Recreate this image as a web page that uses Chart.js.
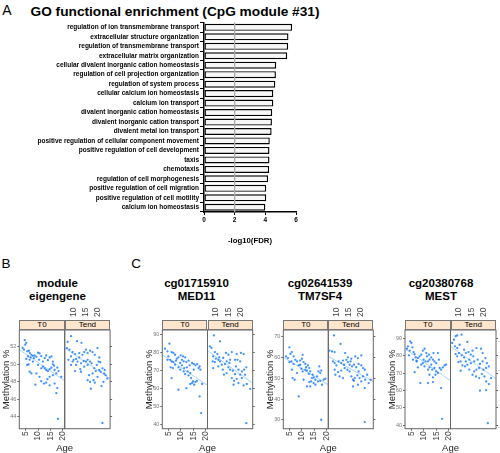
<!DOCTYPE html>
<html><head><meta charset="utf-8">
<script src="https://cdn.jsdelivr.net/npm/chart.js@4.4.1/dist/chart.umd.min.js"></script>
<style>
body{margin:0;background:#fff;}
#root{position:relative;width:500px;height:453px;overflow:hidden;font-family:"Liberation Sans",Arial,Helvetica,sans-serif;background:#fff;}
.t{position:absolute;transform:translate(-50%,-50%);white-space:nowrap;color:#000;}
canvas{position:absolute;}
.strip{position:absolute;background:#FFE5CC;border:1px solid #777;box-sizing:border-box;font-size:8px;display:flex;align-items:center;justify-content:center;color:#000;}
</style></head>
<body><div id="root">
<div class="t" style="left:7px;top:10px;font-size:14px">A</div>
<div class="t" style="left:175px;top:11px;font-size:13.7px;font-weight:bold">GO functional enrichment (CpG module #31)</div>
<div class="t" style="left:6px;top:263px;font-size:13.5px">B</div>
<div class="t" style="left:136px;top:263px;font-size:13.5px">C</div>
<div class="t" style="left:57.5px;top:290px;font-size:11.5px;font-weight:bold;line-height:13.4px;text-align:center">module<br>eigengene</div>
<div class="t" style="left:196.5px;top:290px;font-size:11.5px;font-weight:bold;line-height:13.4px;text-align:center">cg01715910<br>MED11</div>
<div class="t" style="left:320px;top:290px;font-size:11.5px;font-weight:bold;line-height:13.4px;text-align:center">cg02641539<br>TM7SF4</div>
<div class="t" style="left:441px;top:290px;font-size:11.5px;font-weight:bold;line-height:13.4px;text-align:center">cg20380768<br>MEST</div>
</div>
<script>
// ---------- DATA ----------
const goTerms = ["regulation of ion transmembrane transport","extracellular structure organization","regulation of transmembrane transport","extracellular matrix organization","cellular divalent inorganic cation homeostasis","regulation of cell projection organization","regulation of system process","cellular calcium ion homeostasis","calcium ion transport","divalent inorganic cation homeostasis","divalent inorganic cation transport","divalent metal ion transport","positive regulation of cellular component movement","positive regulation of cell development","taxis","chemotaxis","regulation of cell morphogenesis","positive regulation of cell migration","positive regulation of cell motility","calcium ion homeostasis"];
const goLog10FDR = [5.75,5.51,5.49,5.43,4.71,4.69,4.65,4.52,4.52,4.45,4.43,4.41,4.29,4.27,4.27,4.25,4.18,4.06,4.06,4.0];
const goTicks = [0,2,4,6];
const goThreshold = 2;

const ageTicks = [5,10,15,20];
const bYTicks = [44,46,48,50,52];
const c1YTicks = [40,50,60,70,80,90];
const c2YTicks = [30,40,50,60,70];
const c3YTicks = [40,50,60,70,80,90];

// [age, methylation %]
const bT0 = [[4.6,52.74],[5.2,52.43],[3.75,51.85],[4.8,52.23],[4.3,51.65],[5.6,51.46],[6.3,51.53],[6.7,51.26],[7.3,51.07],[5.9,50.88],[5.2,50.6],[6.6,50.49],[7.0,50.76],[7.9,50.95],[8.3,50.68],[8.6,50.99],[9.3,50.84],[10.0,51.3],[10.6,51.22],[10.4,50.49],[11.3,50.91],[12.0,50.29],[12.7,50.68],[13.3,50.99],[14.0,50.45],[14.7,50.76],[15.4,50.88],[16.0,50.29],[16.5,49.83],[12.0,49.71],[12.7,49.52],[13.3,49.33],[14.0,49.21],[14.7,49.44],[15.4,49.6],[16.7,49.33],[17.8,49.6],[18.3,49.21],[19.4,48.55],[17.4,48.94],[16.0,48.74],[14.7,48.55],[13.8,48.28],[13.3,47.89],[12.4,47.78],[11.3,48.05],[10.6,48.55],[9.3,48.94],[7.3,48.94],[6.6,49.13],[8.9,47.66],[14.7,47.58],[16.7,47.78],[17.8,47.27],[17.4,46.69],[18.1,43.75],[10.0,49.91],[11.3,49.52],[7.9,50.29],[16.0,49.98],[6.2,49.98],[5.6,49.91]];
const bTend = [[4.95,53.2],[3.6,52.54],[7.4,52.62],[9.2,52.43],[11.0,51.65],[12.7,51.53],[15.7,51.84],[3.3,51.84],[4.3,51.65],[5.6,51.38],[6.6,51.15],[4.95,50.88],[6.0,50.49],[7.0,50.6],[8.3,50.76],[9.6,51.07],[10.3,51.38],[11.7,51.26],[13.7,51.38],[14.6,51.07],[16.4,50.76],[11.7,50.49],[12.7,50.29],[11.0,50.29],[10.1,50.37],[9.0,50.1],[7.6,50.29],[5.6,50.29],[4.95,49.91],[6.6,49.21],[8.7,49.44],[10.3,49.71],[11.7,49.91],[13.3,50.1],[14.4,49.52],[15.4,49.91],[16.8,50.22],[17.7,49.52],[18.4,48.94],[16.4,49.33],[15.0,49.21],[13.7,48.94],[12.3,48.74],[11.7,48.16],[12.7,47.97],[14.1,48.16],[15.7,48.55],[17.0,49.13],[19.0,48.74],[19.7,48.36],[13.0,47.19],[14.6,47.89],[17.3,47.5],[18.1,47.97],[18.6,49.33],[3.9,50.49],[8.3,51.26],[17.7,43.28],[9.0,49.13],[16.1,50.29],[7.0,49.91]];
const c1T0 = [[5.3,84.8],[3.5,82.0],[4.5,80.5],[6.2,80.1],[6.9,79.6],[7.6,78.6],[4.9,77.7],[5.6,75.8],[6.2,74.9],[6.9,74.5],[8.0,75.3],[9.0,77.2],[9.9,78.3],[10.8,77.7],[11.7,77.2],[10.4,75.8],[11.1,74.9],[12.2,74.5],[13.1,75.3],[9.7,74.0],[10.4,72.7],[9.0,71.6],[6.7,71.2],[5.8,71.6],[11.3,71.2],[12.4,71.6],[13.5,72.7],[14.5,74.0],[15.2,73.4],[15.9,72.7],[16.6,73.4],[17.2,71.2],[17.9,70.3],[17.6,72.1],[15.2,70.3],[13.8,68.4],[12.7,69.3],[11.1,69.3],[11.7,67.8],[13.1,67.1],[14.1,65.6],[14.9,63.7],[15.9,63.4],[14.5,62.8],[13.8,62.3],[15.4,61.9],[16.5,64.1],[18.6,62.3],[6.2,65.6],[9.0,59.1],[12.2,60.0],[17.6,55.4],[18.2,46.1],[7.6,73.1],[9.7,70.3],[8.3,76.4],[4.5,75.8]];
const c1Tend = [[5.0,89.4],[7.5,86.1],[3.4,83.3],[4.0,82.4],[5.4,80.1],[6.4,79.0],[4.7,77.7],[5.8,76.4],[6.8,75.8],[4.5,74.9],[5.4,74.5],[7.5,74.9],[8.8,76.8],[9.9,79.6],[10.9,78.6],[12.3,80.1],[14.3,79.0],[16.0,79.6],[17.1,79.0],[13.6,75.8],[11.6,75.8],[10.2,74.9],[9.5,73.4],[8.2,73.1],[6.8,72.1],[10.9,71.6],[11.6,70.3],[12.7,69.7],[14.0,72.1],[15.0,70.3],[16.4,69.3],[17.3,70.3],[15.7,67.5],[13.6,67.8],[12.3,65.6],[13.2,64.1],[14.3,65.2],[15.0,62.8],[16.4,65.6],[17.7,67.5],[18.4,62.3],[19.8,59.6],[17.1,61.5],[13.0,61.9],[10.2,68.4],[4.7,71.2],[8.6,70.3],[18.2,71.6],[15.7,74.9],[18.2,40.5],[7.2,77.2],[11.3,74.0],[14.6,75.8],[9.1,67.5]];
const c2T0 = [[4.9,64.9],[3.5,60.5],[4.3,59.7],[5.3,61.7],[5.9,62.6],[6.6,60.5],[7.3,58.9],[5.7,58.1],[4.9,57.8],[6.6,56.9],[5.9,54.1],[6.2,50.1],[7.0,49.3],[8.0,52.5],[8.7,56.2],[9.3,58.5],[10.0,59.4],[10.3,61.3],[10.7,57.8],[11.4,56.9],[11.7,55.3],[12.5,56.2],[13.0,54.9],[9.8,54.6],[10.3,53.3],[12.1,53.7],[13.4,53.3],[12.8,52.1],[11.4,54.1],[14.1,50.1],[14.8,50.4],[15.5,49.3],[13.8,48.5],[13.0,48.2],[14.8,47.7],[13.4,46.1],[12.1,46.1],[16.2,50.9],[16.8,53.3],[17.5,52.5],[17.1,55.7],[17.9,53.7],[18.9,49.3],[19.6,49.8],[18.2,46.9],[17.5,48.8],[15.5,46.9],[14.4,51.7],[8.7,41.3],[17.9,30.1],[8.0,58.1],[9.3,56.5],[16.6,48.5],[10.7,49.3]];
const c2Tend = [[4.7,70.6],[2.9,63.3],[3.9,62.9],[5.0,62.6],[7.4,66.5],[9.3,62.1],[10.4,60.1],[11.8,59.4],[13.4,60.5],[14.5,59.7],[15.9,61.0],[4.3,58.1],[5.0,57.3],[5.7,56.2],[6.6,58.1],[7.7,57.3],[8.4,58.5],[9.8,58.9],[10.4,57.8],[11.1,56.5],[12.1,55.7],[12.9,56.5],[13.8,55.3],[14.8,56.9],[15.9,56.2],[16.6,54.9],[17.3,54.1],[10.2,54.1],[9.1,54.9],[7.7,53.7],[6.4,53.0],[5.0,54.1],[5.3,51.7],[7.0,50.9],[8.4,50.1],[11.1,53.3],[11.8,50.9],[12.5,49.3],[13.2,50.1],[14.3,51.4],[15.2,50.1],[15.9,48.5],[16.6,50.9],[17.5,49.3],[18.3,51.7],[18.9,47.7],[17.3,45.3],[14.5,46.9],[12.9,48.8],[12.5,46.1],[17.3,29.0],[8.8,56.5],[11.5,58.1],[14.8,53.3],[19.7,49.3]];
const c3T0 = [[4.5,88.3],[5.0,87.3],[3.6,85.4],[3.2,84.0],[4.3,82.9],[5.4,84.8],[5.9,82.1],[6.3,80.9],[6.7,79.0],[5.6,77.7],[7.0,77.1],[7.6,78.6],[8.3,79.6],[9.0,80.6],[9.6,82.9],[10.3,84.0],[11.0,81.5],[11.3,79.6],[12.1,80.6],[9.9,77.7],[10.7,76.7],[11.7,76.7],[12.3,77.7],[13.0,79.0],[13.7,77.7],[14.3,76.7],[15.0,75.7],[15.7,81.5],[16.1,77.7],[13.9,81.5],[13.0,74.8],[12.3,73.2],[11.7,71.9],[13.4,71.9],[14.3,72.9],[15.0,70.9],[16.4,72.9],[17.0,71.9],[17.7,73.2],[18.4,74.4],[19.0,74.8],[14.7,69.0],[13.7,67.5],[12.3,69.0],[9.0,74.8],[7.6,73.2],[6.3,70.5],[8.6,64.2],[11.7,64.2],[13.7,64.8],[17.0,61.3],[17.4,43.6],[10.3,73.8],[9.6,75.7],[7.2,76.7],[15.7,70.0],[4.0,80.2]];
const c3Tend = [[4.5,91.2],[5.1,91.7],[6.9,92.1],[3.1,87.3],[3.8,89.2],[4.2,85.4],[5.1,84.4],[6.1,86.3],[9.2,87.9],[11.3,82.9],[12.9,84.4],[14.7,84.0],[15.4,81.5],[4.5,80.9],[5.1,79.6],[5.8,81.5],[6.9,80.2],[7.9,79.0],[8.6,81.5],[9.7,82.1],[10.6,80.6],[11.6,79.6],[10.0,77.7],[8.6,76.7],[6.5,76.7],[5.6,76.3],[7.2,74.4],[8.3,73.8],[9.2,74.8],[10.6,75.7],[12.0,76.7],[13.4,77.7],[14.3,75.2],[15.4,76.7],[16.5,78.6],[17.1,75.7],[17.9,73.8],[16.8,72.9],[15.7,71.9],[14.0,72.9],[12.9,71.9],[12.0,70.9],[11.3,69.0],[12.7,68.0],[14.0,67.1],[15.1,69.4],[16.8,65.1],[17.9,63.6],[18.8,67.1],[14.3,59.8],[16.8,60.1],[17.5,41.1],[6.5,71.3],[16.1,68.0],[10.0,71.9],[7.9,83.4]];

// fitted line values at the panel's left / right age limits
const bFitT0 = [51.66,48.11], bFitTend = [51.85,48.34];
const c1FitT0 = [78.6,61.5], c1FitTend = [80.9,62.8];
const c2FitT0 = [60.1,46.9], c2FitTend = [60.5,48.5];
const c3FitT0 = [84.0,65.5], c3FitTend = [85.4,66.7];

// ---------- RENDER ----------
const F = '"Liberation Sans", Arial, Helvetica, sans-serif';
const root = document.getElementById('root');
function mk(left, top, w, h){
  const c=document.createElement('canvas');
  c.width=w; c.height=h;
  c.style.left=left+'px'; c.style.top=top+'px';
  c.style.width=w+'px'; c.style.height=h+'px';
  root.appendChild(c); return c;
}
function txt(html, x, y, style){
  const d=document.createElement('div'); d.className='t';
  d.style.left=x+'px'; d.style.top=y+'px'; d.style.cssText+=style; d.innerHTML=html;
  root.appendChild(d);
}
function pin(chart, want){
  for(let k=0;k<4;k++){
    const a=chart.chartArea, p=Object.assign({},chart.options.layout.padding);
    const dl=want.left-a.left, dr=a.right-want.right, dt=want.top-a.top, db=a.bottom-want.bottom;
    if(Math.abs(dl)+Math.abs(dr)+Math.abs(dt)+Math.abs(db)<0.05) break;
    chart.options.layout.padding={left:Math.max(0,p.left+dl),right:Math.max(0,p.right+dr),top:Math.max(0,p.top+dt),bottom:Math.max(0,p.bottom+db)};
    chart.update();
  }
}

// Panel A: bar chart
const refLine = {id:'refLine', afterDatasetsDraw(c){
  const a=c.chartArea, x=c.scales.x.getPixelForValue(goThreshold), g=c.ctx;
  g.save(); g.strokeStyle='#aaa'; g.lineWidth=1.3; g.beginPath(); g.moveTo(x,a.top); g.lineTo(x,a.bottom); g.stroke(); g.restore();
}};
new Chart(mk(0,18,310,235), {
  type:'bar',
  data:{labels:goTerms, datasets:[{data:goLog10FDR, backgroundColor:'#f7f7f7', borderColor:'#000', borderWidth:1.4, borderSkipped:false, categoryPercentage:1, barPercentage:0.74}]},
  options:{
    indexAxis:'y', responsive:false, animation:false, devicePixelRatio:1, events:[],
    layout:{padding:{top:4.6,right:14,left:0,bottom:0}},
    plugins:{legend:{display:false}, tooltip:{enabled:false}},
    scales:{
      x:{min:0,max:6, afterBuildTicks:s=>{s.ticks=goTicks.map(v=>({value:v}));},
        ticks:{font:{size:6.5,weight:'bold',family:F},color:'#000',padding:1,maxRotation:0},
        grid:{drawOnChartArea:false,drawTicks:true,tickLength:3,color:'#000',lineWidth:1},
        border:{color:'#000',width:1.5},
        title:{display:true,text:'-log10(FDR)',font:{size:7.8,weight:'bold',family:F},color:'#000',padding:{top:0,bottom:7.8}},
        afterFit:s=>{s.height=41; s.paddingLeft=0; s.paddingRight=0;}},
      y:{ticks:{font:{size:6.5,weight:'bold',family:F},color:'#000',padding:1,autoSkip:false},
        grid:{drawOnChartArea:false,tickLength:4,color:'#000',lineWidth:1},
        border:{color:'#000',width:1.5},
        afterFit:s=>{s.width=204; s.paddingTop=0; s.paddingBottom=0;}}
    }
  },
  plugins:[refLine]
});

// Panels B, C: lattice-like scatter panels
const PT=330, PB=428.7, CT=298, CHH=155, XMIN=2.4, XMAX=20.8;
const frame = {id:'frame', afterDraw(c){
  const a=c.chartArea, g=c.ctx; g.save(); g.strokeStyle='#666'; g.lineWidth=1;
  g.strokeRect(a.left, a.top, a.right-a.left, a.bottom-a.top); g.restore();
}};
function sets(pts, fit){
  return [
    {type:'line', data:[{x:XMIN,y:fit[0]},{x:XMAX,y:fit[1]}], borderColor:'rgba(0,128,255,0.35)', borderWidth:1, pointRadius:0, order:2},
    {type:'scatter', data:pts.map(p=>({x:p[0],y:p[1]})), backgroundColor:'rgba(0,110,255,0.75)', borderWidth:0, pointRadius:1.15, order:1}
  ];
}
function gene(L, W, ymin, ymax, yTicks, t0, tEnd, fitT0, fitTend){
  // T0 (left) panel
  {
    const cl=Math.floor(L-20), axW=L-cl, cw=Math.ceil(axW+W+3), padR=cw-axW-W;
    const ch=new Chart(mk(cl,CT,cw,CHH), {
      type:'scatter', data:{datasets:sets(t0,fitT0)},
      options:{responsive:false, animation:false, devicePixelRatio:1, events:[],
        layout:{autoPadding:false, padding:{top:PT-CT,right:padR,left:0,bottom:0}},
        plugins:{legend:{display:false}, tooltip:{enabled:false}},
        scales:{
          x:{type:'linear', position:'bottom', min:XMIN, max:XMAX,
            afterBuildTicks:s=>{s.ticks=ageTicks.map(v=>({value:v}));},
            ticks:{minRotation:90,maxRotation:90,autoSkip:false,font:{size:8.5,family:F},color:'#444',padding:0.5},
            grid:{drawOnChartArea:false,tickLength:2,color:'#666'}, border:{display:false},
            afterFit:s=>{s.height=CT+CHH-PB; s.paddingLeft=0; s.paddingRight=0;}},
          y:{type:'linear', position:'left', min:ymin, max:ymax,
            afterBuildTicks:s=>{s.ticks=yTicks.map(v=>({value:v}));},
            ticks:{font:{size:5.5,family:F},color:'#777',padding:1},
            grid:{drawOnChartArea:false,tickLength:2,color:'#666'}, border:{display:false},
            title:{display:true,text:'Methylation %',font:{size:9.5,family:F},color:'#222',padding:{top:Math.max(0,axW-12.5-5.7),bottom:0}},
            afterFit:s=>{s.width=axW; s.paddingTop=0; s.paddingBottom=0;}}
        }},
      plugins:[frame]
    });
    pin(ch,{left:axW,right:axW+W,top:PT-CT,bottom:PB-CT});
  }
  // Tend (right) panel
  {
    const cl=Math.floor(L+W)-1, padL=L+W-cl, rAx=4, cw=Math.ceil(padL+W+rAx+1), padR=cw-padL-W-rAx;
    const ch=new Chart(mk(cl,CT,cw,CHH), {
      type:'scatter', data:{datasets:sets(tEnd,fitTend)},
      options:{responsive:false, animation:false, devicePixelRatio:1, events:[],
        layout:{autoPadding:false, padding:{top:0,right:padR,left:padL,bottom:CT+CHH-PB}},
        plugins:{legend:{display:false}, tooltip:{enabled:false}},
        scales:{
          x:{type:'linear', position:'top', min:XMIN, max:XMAX,
            afterBuildTicks:s=>{s.ticks=ageTicks.map(v=>({value:v}));},
            ticks:{minRotation:90,maxRotation:90,autoSkip:false,font:{size:8.5,family:F},color:'#444',padding:13},
            grid:{drawOnChartArea:false,drawTicks:false}, border:{display:false},
            afterFit:s=>{s.height=PT-CT; s.paddingLeft=0; s.paddingRight=0;}},
          y:{type:'linear', position:'right', min:ymin, max:ymax,
            afterBuildTicks:s=>{s.ticks=yTicks.map(v=>({value:v}));},
            ticks:{display:false},
            grid:{drawOnChartArea:false,tickLength:2,color:'#666'}, border:{display:false},
            afterFit:s=>{s.width=rAx; s.paddingTop=0; s.paddingBottom=0;}}
        }},
      plugins:[frame]
    });
    pin(ch,{left:padL,right:padL+W,top:PT-CT,bottom:PB-CT});
  }
  // strips and x title
  ['T0','Tend'].forEach((lab,i)=>{
    const d=document.createElement('div'); d.className='strip';
    d.style.left=(L+i*W)+'px'; d.style.top='319.5px'; d.style.width=W+'px'; d.style.height='10.8px';
    d.textContent=lab; root.appendChild(d);
  });
  txt('Age', L+W, 447, 'font-size:9.5px;color:#222;');
}
gene(19.3, 45.4, 42.63, 53.9, bYTicks, bT0, bTend, bFitT0, bFitTend);
gene(162.3, 45.2, 37.4, 92.4, c1YTicks, c1T0, c1Tend, c1FitT0, c1FitTend);
gene(283.3, 45.0, 25.8, 73.2, c2YTicks, c2T0, c2Tend, c2FitT0, c2FitTend);
gene(405.0, 45.5, 37.9, 94.8, c3YTicks, c3T0, c3Tend, c3FitT0, c3FitTend);
</script>
</body></html>
